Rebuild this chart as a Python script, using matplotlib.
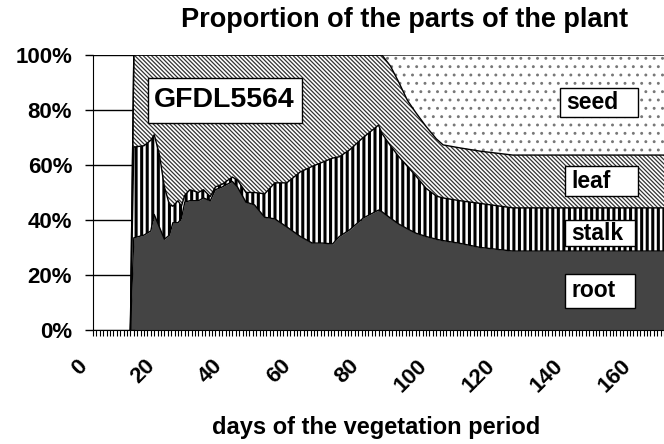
import numpy as np
import matplotlib
matplotlib.use('Agg')
import matplotlib.pyplot as plt
from matplotlib.ticker import MultipleLocator, FixedLocator, NullFormatter
from matplotlib.patches import Rectangle
from matplotlib.transforms import ScaledTranslation, blended_transform_factory

# days of the vegetation period
days = [11, 12, 15, 17, 18, 19.5, 21, 22.5, 23.5, 25, 26, 27, 28.5, 31, 32.5, 34.5,
        36, 38, 41, 42.5, 45, 47.5, 50.5, 53.5, 57, 61, 64.5, 67.5, 70.5, 72.5,
        75.5, 79.5, 84, 85, 87.5, 90, 92.5, 95, 98, 101, 103, 108, 114, 123.5, 140, 168]

# proportion of each part (%)
root = [0, 33.5, 34.5, 36, 42, 37.5, 33, 34.5, 39, 39, 40.5, 46.5, 47, 47, 48, 47,
        51, 52, 54, 52, 46.5, 45.5, 41, 40.4, 37.5, 34, 31.6, 31.6, 31.3, 34,
        36.4, 40.7, 43.6, 43, 40.7, 38.5, 36.8, 35.2, 34, 33, 32.5, 31.5, 30, 28.7, 28.7, 28.7]
stalk = [0, 33, 32.5, 33, 29, 26.5, 19, 11, 6, 8, 4.5, 2.5, 4, 3, 3, 1.5,
         1, 1, 1.6, 2.5, 3.5, 4.5, 8.5, 13.1, 16, 23.5, 27.9, 29.4, 31.2, 29,
         29.1, 29.3, 30.9, 28.5, 26.3, 24.5, 22.7, 20.8, 17.5, 15.7, 15.5, 15.5, 16, 15.7, 15.7, 15.7]
leaf = [0, 33.5, 33, 31, 29, 36, 48, 54.5, 55, 53, 55, 51, 49, 50, 49, 51.5,
        48, 47, 44.4, 45.5, 50, 50, 50.5, 46.5, 46.5, 42.5, 40.5, 39, 37.5, 37,
        34.5, 30, 25.5, 28.5, 29, 27, 24, 23, 22.5, 20.8, 19.3, 19.2, 19, 19.2, 19.2, 19.2]
seed = [0, 0, 0, 0, 0, 0, 0, 0, 0, 0, 0, 0, 0, 0, 0, 0,
        0, 0, 0, 0, 0, 0, 0, 0, 0, 0, 0, 0, 0, 0,
        0, 0, 0, 0, 4, 10, 16.5, 21, 26, 30.5, 32.7, 33.8, 35, 36.4, 36.4, 36.4]

parts = ['root', 'stalk', 'leaf', 'seed']
x_ticks = [0, 20, 40, 60, 80, 100, 120, 140, 160]
y_ticks = [0, 20, 40, 60, 80, 100]

plt.rcParams['font.family'] = 'Liberation Sans'
plt.rcParams['font.weight'] = 'bold'

fig = plt.figure(figsize=(6.64, 4.44), dpi=100)
ax = fig.add_axes([0.1401, 0.2568, 0.8599, 0.6194])

layers = np.array([root, stalk, leaf, seed])
tops = np.cumsum(layers, axis=0)
bottoms = np.vstack([np.zeros(len(days)), tops[:-1]])

# face colour, hatch, hatch colour, hatch width
styles = [('#444444', None, '#444444', 1.0),
          ('white', '|||', 'black', 2.2),
          ('white', '\\\\\\\\\\\\\\\\', '#333333', 0.9),
          ('white', '..', '#777777', 0.9)]

for i, (fc, hatch, hc, hw) in enumerate(styles):
    plt.rcParams['hatch.color'] = hc
    plt.rcParams['hatch.linewidth'] = hw
    coll = ax.fill_between(days, bottoms[i], tops[i], facecolor=fc,
                           edgecolor=hc, linewidth=0, hatch=hatch, zorder=2)
    if hasattr(coll, 'set_hatch_linewidth'):
        coll.set_hatch_linewidth(hw)
    ax.plot(days, tops[i], color='black', lw=1, zorder=3)

ax.plot([days[0], days[1]], [0, 0], color='black', lw=1, zorder=3)

ax.set_xlim(0, 168)
ax.set_ylim(0, 100)
ax.yaxis.set_major_locator(FixedLocator(y_ticks))
ax.set_yticklabels([f'{v}%' for v in y_ticks], fontsize=16, fontweight='bold')
ax.xaxis.set_major_locator(FixedLocator(x_ticks))
ax.xaxis.set_minor_locator(MultipleLocator(1))
ax.xaxis.set_major_formatter(NullFormatter())
ax.tick_params(axis='y', direction='out', length=6, width=1, pad=9)
ax.tick_params(axis='x', which='both', direction='out', length=4.5, width=0.8)
ax.grid(axis='y', color='black', lw=1, zorder=0)
ax.set_axisbelow(True)
for s in ['top', 'right']:
    ax.spines[s].set_visible(False)

# rotated day labels, top-right end just left of and below each tick
trans = blended_transform_factory(ax.transData, ax.transAxes)
offset = ScaledTranslation(-12 / 72, -18.5 / 72, fig.dpi_scale_trans)
for v in x_ticks:
    ax.text(v, 0, str(v), transform=trans + offset, fontsize=16, fontweight='bold',
            rotation=45, ha='right', va='top', rotation_mode='anchor', clip_on=False)

ax.set_xlabel('days of the vegetation period', fontsize=17, fontweight='bold')
ax.xaxis.set_label_coords(0.496, -0.356)
ax.xaxis.label.set_va('center')
fig.text(0.61, 0.955, 'Proportion of the parts of the plant', fontsize=19.5,
         fontweight='bold', ha='center', va='center')

# label boxes (axes fractions): x0, y0, w, h, font size
boxes = {'GFDL5564': (0.0963, 0.753, 0.270, 0.164, 20.5),
         'seed': (0.818, 0.775, 0.137, 0.105, 16.5),
         'leaf': (0.827, 0.487, 0.128, 0.109, 16.5),
         'stalk': (0.827, 0.305, 0.123, 0.095, 16.5),
         'root': (0.827, 0.080, 0.123, 0.124, 16.5)}
for name, (x0, y0, w, h, fs) in boxes.items():
    ax.add_patch(Rectangle((x0, y0), w, h, transform=ax.transAxes, facecolor='white',
                           edgecolor='black', lw=1, zorder=5))
    ax.text(x0 + 0.011, y0 + h / 2, name, transform=ax.transAxes, fontsize=fs,
            fontweight='bold', va='center', ha='left', zorder=6)

fig.savefig('out.png', dpi=100)
